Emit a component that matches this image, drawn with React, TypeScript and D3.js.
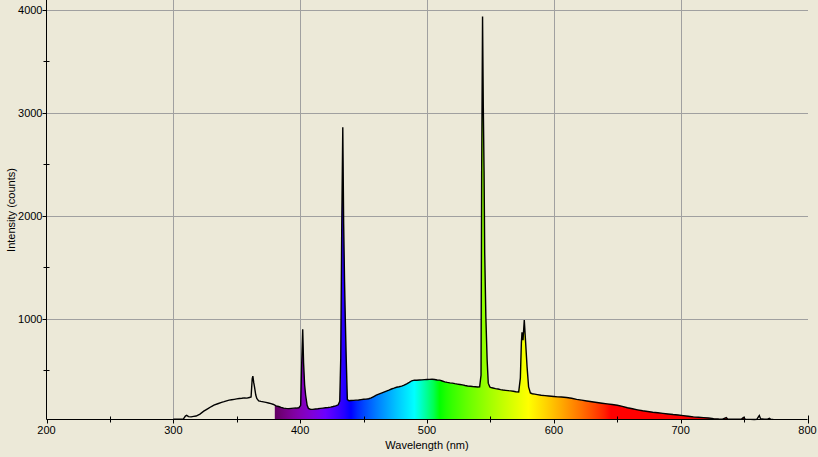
import React from "react";
import * as d3 from "d3";

const wavelengths: number[] = [
  300, 304, 308, 309.5, 310.5, 312, 314, 316, 318, 321, 324, 327, 330, 332, 335, 338, 340, 342, 344, 346, 348,
  350, 352, 354, 356, 358, 360, 361.3, 362.2, 362.7, 363.4, 364, 365, 365.8, 367.3, 369, 371, 373, 375, 377, 379,
  381, 383, 385, 387, 389, 391, 393, 395, 397, 399, 400.4, 401.2, 402.0, 402.7, 403.5, 404.3, 405.5, 406.5, 408,
  410, 412, 414, 416, 418, 420, 422, 424, 426, 428, 430, 431.2, 432.0, 432.8, 433.6, 434.3, 435.0, 435.6, 436.3,
  437.2, 438.5, 440, 442, 444, 446, 448, 450, 452, 454, 456, 458, 460, 462, 464, 466, 468, 470, 472, 474, 476, 478,
  480, 482, 484, 486, 488, 490, 492, 494, 496, 498, 500, 502, 504, 506, 508, 510, 512, 514, 516, 518, 520, 522, 524,
  526, 528, 530, 532, 534, 536, 538, 540, 541.5, 542.6, 543.1, 543.8, 544.4, 545.0, 545.5, 546.4, 547.4, 548.3,
  549.5, 550, 552, 554, 556, 558, 560, 562, 564, 566, 568, 570, 572.3, 573.6, 574.4, 574.9, 575.7, 576.7, 577.8,
  578.9, 580.1, 581.5, 583, 585, 587, 590, 593, 596, 600, 603, 606, 610, 614, 618, 622, 626, 630, 634, 638, 642, 646,
  650, 654, 658, 662, 666, 670, 674, 678, 682, 686, 690, 694, 698, 702, 706, 710, 714, 718, 722, 726, 730, 733, 736,
  737, 740, 744, 748, 749.5, 751, 755, 758, 760, 762, 763, 766, 768, 770, 771, 773,
];

const intensities: number[] = [
  25, 26, 28, 55, 62, 50, 48, 52, 56, 75, 103, 125, 148, 162, 175, 188, 195, 203, 210, 214, 218,
  222, 226, 228, 232, 230, 236, 240, 420, 443, 380, 339, 260, 226, 203, 198, 193, 188, 182, 176, 168,
  155, 148, 140, 133, 130, 128, 130, 132, 133, 136, 160, 566, 898, 570, 360, 260, 160, 130, 122,
  120, 124, 126, 130, 133, 136, 138, 142, 148, 155, 165, 200, 620, 1920, 2860, 1920, 1360, 994, 618,
  215, 205, 207, 208, 210, 212, 215, 218, 220, 224, 232, 245, 258, 268, 278, 288, 298, 307, 318, 326, 335, 340,
  346, 355, 368, 382, 398, 404, 403, 406, 407, 409, 411, 412, 413, 411, 406, 404, 396, 388, 382, 378, 375, 370, 366,
  362, 358, 352, 348, 345, 342, 340, 338, 340, 453, 2430, 3935, 3050, 2430, 1640, 1020, 605, 375,
  340, 333, 328, 322, 318, 312, 308, 305, 302, 300, 296, 292, 290, 424, 764, 868, 793, 987, 761,
  533, 339, 280, 272, 268, 264, 258, 254, 250, 245, 242, 240, 235, 228, 218, 210, 202, 194, 187, 180, 174, 168,
  160, 150, 136, 126, 116, 107, 100, 92, 88, 82, 76, 70, 66, 60, 54, 48, 44, 40, 36, 30, 27, 26, 40,
  28, 25, 24, 26, 42, 24, 23, 22, 24, 60, 30, 24, 24, 34, 24, 23,
];

const xTicks: number[] = [200, 300, 400, 500, 600, 700, 800];
const xMinorTicks: number[] = [250, 350, 450, 550, 650, 750];
const yTicks: number[] = [1000, 2000, 3000, 4000];
const yMinorTicks: number[] = [500, 1500, 2500, 3500];
const xTitle = "Wavelength (nm)";
const yTitle = "Intensity (counts)";
const fillRange: [number, number] = [380, 750];

function wavelengthColor(w: number): string {
  let r = 0, g = 0, b = 0;
  if (w < 440) { r = -(w - 440) / 60; b = 1; }
  else if (w < 490) { g = (w - 440) / 50; b = 1; }
  else if (w < 510) { g = 1; b = -(w - 510) / 20; }
  else if (w < 580) { r = (w - 510) / 70; g = 1; }
  else if (w < 645) { r = 1; g = -(w - 645) / 65; }
  else { r = 1; }
  let f = 1;
  if (w < 420) f = 0.3 + (0.7 * (w - 380)) / 40;
  else if (w > 700) f = 0.3 + (0.7 * (780 - w)) / 80;
  const adj = (c: number) => (c === 0 ? 0 : Math.round(255 * Math.pow(c * f, 0.8)));
  return d3.rgb(adj(r), adj(g), adj(b)).formatHex();
}

export default function App() {
  const W = 818, H = 457;
  const x = d3.scaleLinear().domain([200, 800]).range([46.5, 807.5]);
  const y = d3.scaleLinear().domain([22, 4096]).range([419.5, 0]);
  const data = wavelengths.map((w, i) => ({ w, v: intensities[i] }));

  const interp = (w: number) => {
    const i = d3.bisector((d: any) => d.w).left(data, w);
    const a = data[Math.max(0, i - 1)], b = data[Math.min(data.length - 1, i)];
    if (a.w === b.w) return a.v;
    return a.v + ((b.v - a.v) * (w - a.w)) / (b.w - a.w);
  };
  const fillData = [
    { w: fillRange[0], v: interp(fillRange[0]) },
    ...data.filter((d) => d.w > fillRange[0] && d.w < fillRange[1]),
    { w: fillRange[1], v: interp(fillRange[1]) },
  ];

  const area = d3.area<any>().x((d) => x(d.w)).y0(y(22)).y1((d) => y(d.v));
  const line = d3.line<any>().x((d) => x(d.w)).y((d) => y(d.v));

  const stops = d3.range(fillRange[0], fillRange[1] + 1, 5);
  const font = "'Liberation Sans', Arial, sans-serif";
  const axisY = y(22);
  const axisX = x(200);

  return (
    <svg width={W} height={H} style={{ position: "absolute", left: 0, top: 0, background: "#ECE9D8" }}>
      <defs>
        <linearGradient id="spec" gradientUnits="userSpaceOnUse" x1={x(fillRange[0])} x2={x(fillRange[1])} y1={0} y2={0}>
          {stops.map((w) => (
            <stop key={w} offset={(w - fillRange[0]) / (fillRange[1] - fillRange[0])} stopColor={wavelengthColor(w)} />
          ))}
        </linearGradient>
      </defs>
      <rect x={0} y={0} width={W} height={H} fill="#ECE9D8" />
      {/* grid */}
      {xTicks.filter((t) => t > 200 && t < 800).map((t) => (
        <line key={"gx" + t} x1={Math.round(x(t)) + 0.5} x2={Math.round(x(t)) + 0.5} y1={0} y2={axisY} stroke="#A0A0A0" strokeWidth={1} />
      ))}
      {yTicks.map((t) => (
        <line key={"gy" + t} x1={axisX} x2={808} y1={Math.round(y(t)) + 0.5} y2={Math.round(y(t)) + 0.5} stroke="#A0A0A0" strokeWidth={1} />
      ))}
      {/* fill */}
      <path d={area(fillData) || ""} fill="url(#spec)" />
      <path d={line(data) || ""} fill="none" stroke="#000" strokeWidth={1.4} strokeLinejoin="miter" />
      {/* axes */}
      <line x1={axisX} x2={axisX} y1={0} y2={axisY} stroke="#000" strokeWidth={1} />
      <line x1={axisX} x2={807.5} y1={axisY} y2={axisY} stroke="#000" strokeWidth={1} />
      {xTicks.map((t) => (
        <g key={"xt" + t}>
          <line x1={Math.round(x(t)) + 0.5} x2={Math.round(x(t)) + 0.5} y1={axisY - (t === 800 ? 4 : 0)} y2={axisY + 4} stroke="#000" />
          <text x={x(t)} y={434} textAnchor="middle" fontFamily={font} fontSize={11} fill="#000">{t}</text>
        </g>
      ))}
      {xMinorTicks.map((t) => (
        <line key={"xm" + t} x1={Math.round(x(t)) + 0.5} x2={Math.round(x(t)) + 0.5} y1={axisY - 3} y2={axisY + 3} stroke="#000" />
      ))}
      {yTicks.map((t) => (
        <g key={"yt" + t}>
          <line x1={axisX - 4} x2={axisX} y1={Math.round(y(t)) + 0.5} y2={Math.round(y(t)) + 0.5} stroke="#000" />
          <text x={axisX - 4} y={y(t) + 4} textAnchor="end" fontFamily={font} fontSize={11} fill="#000">{t}</text>
        </g>
      ))}
      {yMinorTicks.map((t) => (
        <line key={"ym" + t} x1={axisX - 3} x2={axisX + 3} y1={Math.round(y(t)) + 0.5} y2={Math.round(y(t)) + 0.5} stroke="#000" />
      ))}
      <text x={(x(200) + x(800)) / 2} y={449} textAnchor="middle" fontFamily={font} fontSize={11} fill="#000">{xTitle}</text>
      <text transform={`translate(15, 210) rotate(-90)`} textAnchor="middle" fontFamily={font} fontSize={11} fill="#000">{yTitle}</text>
    </svg>
  );
}
